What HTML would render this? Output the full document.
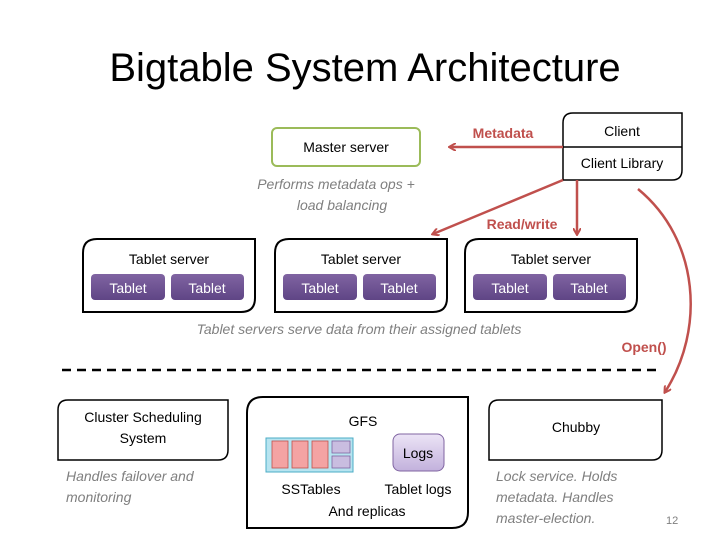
<!DOCTYPE html>
<html><head><meta charset="utf-8"><style>
body{margin:0;background:#fff;}
svg{display:block;font-family:"Liberation Sans",sans-serif;}
</style></head><body>
<svg width="728" height="546" viewBox="0 0 728 546" xmlns="http://www.w3.org/2000/svg">
<defs>
<marker id="ah" markerWidth="8" markerHeight="8" refX="6" refY="4" orient="auto" markerUnits="userSpaceOnUse"><path d="M0,0 L7,4 L0,8" fill="none" stroke="#c0504d" stroke-width="2"/></marker>
<linearGradient id="pg" x1="0" y1="0" x2="0" y2="1"><stop offset="0" stop-color="#8064a2"/><stop offset="1" stop-color="#5f4585"/></linearGradient>
<linearGradient id="lg" x1="0" y1="0" x2="0" y2="1"><stop offset="0" stop-color="#ece4f6"/><stop offset="1" stop-color="#c2b1dc"/></linearGradient>
</defs>
<text x="365" y="81" font-size="40" text-anchor="middle" fill="#000">Bigtable System Architecture</text>

<!-- master -->
<rect x="272" y="128" width="148" height="38" rx="5" fill="#fff" stroke="#9bbb59" stroke-width="2"/>
<text x="346" y="152" font-size="14" text-anchor="middle">Master server</text>
<text x="336" y="189" font-size="14" font-style="italic" fill="#7f7f7f" text-anchor="middle">Performs metadata ops +</text>
<text x="342" y="210" font-size="14" font-style="italic" fill="#7f7f7f" text-anchor="middle">load balancing</text>

<!-- client -->
<path d="M573,113 H682 V170 Q682,180 672,180 H563 V123 Q563,113 573,113 Z" fill="#fff" stroke="#000" stroke-width="1.5"/>
<line x1="563" y1="147" x2="682" y2="147" stroke="#000" stroke-width="1.5"/>
<text x="622" y="136" font-size="14" text-anchor="middle">Client</text>
<text x="622" y="168" font-size="14" text-anchor="middle">Client Library</text>

<!-- arrows -->
<line x1="563" y1="147" x2="450" y2="147" stroke="#c0504d" stroke-width="2.5" marker-end="url(#ah)"/>
<text x="503" y="138" font-size="14" font-weight="bold" fill="#c0504d" text-anchor="middle">Metadata</text>
<line x1="563" y1="180" x2="433" y2="234" stroke="#c0504d" stroke-width="2.5" marker-end="url(#ah)"/>
<line x1="577" y1="180" x2="577" y2="234" stroke="#c0504d" stroke-width="2.5" marker-end="url(#ah)"/>
<text x="522" y="229" font-size="14" font-weight="bold" fill="#c0504d" text-anchor="middle">Read/write</text>
<path d="M638,189 C700,240 705,330 665,392" fill="none" stroke="#c0504d" stroke-width="2.5" marker-end="url(#ah)"/>
<text x="644" y="352" font-size="14" font-weight="bold" fill="#c0504d" text-anchor="middle">Open()</text>

<!-- tablet servers -->
<g id="ts">
<path d="M97,239 H255 V298 Q255,312 241,312 H83 V253 Q83,239 97,239 Z" fill="#fff" stroke="#000" stroke-width="2"/>
<text x="169" y="264" font-size="14" text-anchor="middle">Tablet server</text>
<rect x="91" y="274" width="74" height="26" rx="4" fill="url(#pg)"/>
<rect x="171" y="274" width="73" height="26" rx="4" fill="url(#pg)"/>
<text x="128" y="293" font-size="14" fill="#fff" text-anchor="middle">Tablet</text>
<text x="207" y="293" font-size="14" fill="#fff" text-anchor="middle">Tablet</text>
</g>
<use href="#ts" x="192"/>
<use href="#ts" x="382"/>
<text x="359" y="334" font-size="14" font-style="italic" fill="#7f7f7f" text-anchor="middle">Tablet servers serve data from their assigned tablets</text>

<line x1="62" y1="370" x2="662" y2="370" stroke="#000" stroke-width="2.5" stroke-dasharray="9,6"/>

<!-- cluster -->
<path d="M68,400 H228 V450 Q228,460 218,460 H58 V410 Q58,400 68,400 Z" fill="#fff" stroke="#000" stroke-width="1.5"/>
<text x="143" y="422" font-size="14" text-anchor="middle">Cluster Scheduling</text>
<text x="143" y="443" font-size="14" text-anchor="middle">System</text>
<text x="66" y="481" font-size="14" font-style="italic" fill="#7f7f7f">Handles failover and</text>
<text x="66" y="502" font-size="14" font-style="italic" fill="#7f7f7f">monitoring</text>

<!-- GFS -->
<path d="M263,397 H468 V512 Q468,528 452,528 H247 V413 Q247,397 263,397 Z" fill="#fff" stroke="#000" stroke-width="2"/>
<text x="363" y="426" font-size="14" text-anchor="middle">GFS</text>
<rect x="266" y="438" width="87" height="34" fill="#b7e4f0" stroke="#4bacc6" stroke-width="1"/>
<rect x="272" y="441" width="16" height="27" fill="#f4a3a3" stroke="#c0504d" stroke-width="0.8"/>
<rect x="292" y="441" width="16" height="27" fill="#f4a3a3" stroke="#c0504d" stroke-width="0.8"/>
<rect x="312" y="441" width="16" height="27" fill="#f4a3a3" stroke="#c0504d" stroke-width="0.8"/>
<rect x="332" y="441" width="18" height="12" fill="#c9bde0" stroke="#8064a2" stroke-width="0.8"/>
<rect x="332" y="456" width="18" height="12" fill="#c9bde0" stroke="#8064a2" stroke-width="0.8"/>
<rect x="393" y="434" width="51" height="37" rx="7" fill="url(#lg)" stroke="#8064a2" stroke-width="1"/>
<text x="418" y="458" font-size="14" text-anchor="middle">Logs</text>
<text x="311" y="494" font-size="14" text-anchor="middle">SSTables</text>
<text x="418" y="494" font-size="14" text-anchor="middle">Tablet logs</text>
<text x="367" y="516" font-size="14" text-anchor="middle">And replicas</text>

<!-- chubby -->
<path d="M499,400 H662 V450 Q662,460 652,460 H489 V410 Q489,400 499,400 Z" fill="#fff" stroke="#000" stroke-width="1.5"/>
<text x="576" y="432" font-size="14" text-anchor="middle">Chubby</text>
<text x="496" y="481" font-size="14" font-style="italic" fill="#7f7f7f">Lock service. Holds</text>
<text x="496" y="502" font-size="14" font-style="italic" fill="#7f7f7f">metadata. Handles</text>
<text x="496" y="523" font-size="14" font-style="italic" fill="#7f7f7f">master-election.</text>
<text x="666" y="524" font-size="11" fill="#7f7f7f">12</text>
</svg>
</body></html>
